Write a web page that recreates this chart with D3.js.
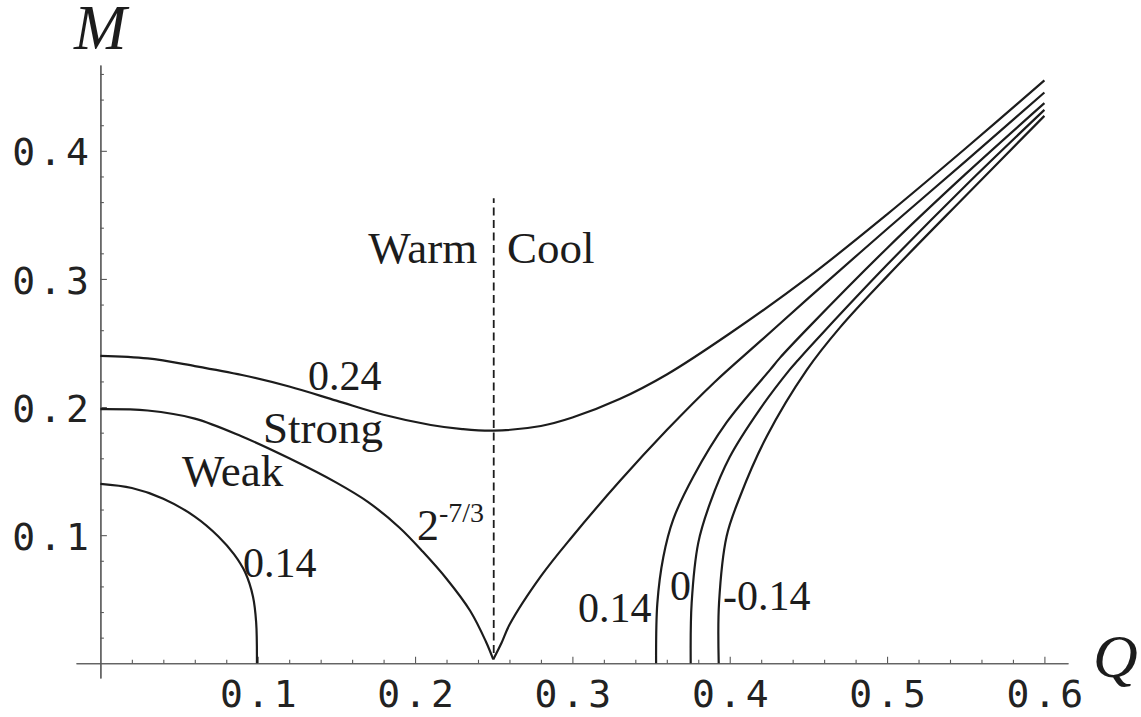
<!DOCTYPE html>
<html>
<head>
<meta charset="utf-8">
<script src="https://cdn.jsdelivr.net/npm/d3@7"></script>
<style>
  html, body { margin: 0; padding: 0; background: #fff; }
  svg { display: block; }
</style>
</head>
<body>
<svg id="chart" width="1141" height="717"></svg>
<script>
// Major tick values on each axis
const qTicks = [0.1, 0.2, 0.3, 0.4, 0.5, 0.6];
const mTicks = [0.1, 0.2, 0.3, 0.4];

// Level curve 0.24 (single smooth branch, minimum at Q = 1/4)
const q024 = [0.000, 0.030, 0.060, 0.090, 0.120, 0.150, 0.180, 0.210, 0.230, 0.250, 0.280, 0.300, 0.330, 0.360, 0.400, 0.450, 0.500, 0.550, 0.600];
const m024 = [0.240, 0.238, 0.232, 0.225, 0.216, 0.205, 0.194, 0.186, 0.1828, 0.1816, 0.1852, 0.1918, 0.2062, 0.2254, 0.2574, 0.3014, 0.3504, 0.4020, 0.4550];

// Critical curve 2^(-7/3): left branch down to the cusp, right branch up from it
const qCritL = [0.000, 0.030, 0.060, 0.090, 0.120, 0.150, 0.170, 0.190, 0.205, 0.220, 0.235, 0.245, 0.2497];
const mCritL = [0.1984, 0.1973, 0.191, 0.177, 0.160, 0.141, 0.126, 0.106, 0.087, 0.066, 0.041, 0.017, 0.003];
const qCritR = [0.2497, 0.255, 0.260, 0.280, 0.300, 0.330, 0.360, 0.390, 0.420, 0.450, 0.500, 0.550, 0.600];
const mCritR = [0.003, 0.016, 0.030, 0.068, 0.099, 0.142, 0.182, 0.219, 0.252, 0.285, 0.339, 0.392, 0.4455];

// Level curve 0.14 on the warm side
const q014L = [0.000, 0.020, 0.040, 0.060, 0.075, 0.085, 0.092, 0.097, 0.099, 0.0995];
const m014L = [0.140, 0.1368, 0.1285, 0.1145, 0.099, 0.085, 0.071, 0.052, 0.032, 0.000];

// Level curves 0.14, 0 and -0.14 on the cool side
const q014R = [0.3532, 0.354, 0.3578, 0.364, 0.377, 0.398, 0.4256, 0.4319, 0.450, 0.500, 0.550, 0.600];
const m014R = [0.000, 0.047, 0.083, 0.112, 0.146, 0.188, 0.229, 0.2384, 0.262, 0.324, 0.382, 0.4372];
const q0R = [0.3752, 0.3758, 0.380, 0.3875, 0.400, 0.419, 0.438, 0.4435, 0.460, 0.500, 0.550, 0.600];
const m0R = [0.000, 0.047, 0.094, 0.125, 0.161, 0.198, 0.229, 0.2368, 0.259, 0.311, 0.373, 0.432];
const qm014R = [0.393, 0.3932, 0.398, 0.4065, 0.4235, 0.449, 0.470, 0.500, 0.550, 0.600];
const mm014R = [0.000, 0.047, 0.099, 0.130, 0.177, 0.229, 0.262, 0.302, 0.365, 0.4273];

// Warm / cool divider at Q = 1/4
const dividerQ = 0.25;
const dividerM = [0.008, 0.363];

const svg = d3.select("#chart");

const x = d3.scaleLinear().domain([-0.0155, 0.615]).range([76, 1068]);
const y = d3.scaleLinear().domain([-0.0115, 0.467]).range([678, 65]);

const axisColor = "#5a5a5a";
const inkColor = "#1c1c1c";
const monoFont = "'DejaVu Sans Mono', 'Liberation Mono', monospace";
const serifFont = "'Liberation Serif', 'Times New Roman', serif";

// Minor tick positions every 0.02
const isMajor = v => Math.abs(v * 10 - Math.round(v * 10)) < 1e-6;
const qMinor = d3.range(1, 31).map(i => +(i * 0.02).toFixed(2)).filter(v => !isMajor(v));
const mMinor = d3.range(1, 24).map(i => +(i * 0.02).toFixed(2)).filter(v => !isMajor(v));

function styleAxis(g) {
  g.select(".domain").attr("stroke", axisColor).attr("stroke-width", 1.2);
  g.selectAll(".tick line").attr("stroke", axisColor).attr("stroke-width", 1.1);
  g.selectAll(".tick text")
    .attr("fill", "#222")
    .style("font-family", monoFont)
    .style("font-size", "38px")
    .style("letter-spacing", "4px");
}

// Q axis
const gx = svg.append("g").attr("transform", `translate(0,${y(0)})`);
gx.append("g")
  .call(d3.axisBottom(x).tickValues(qMinor).tickSize(-3.5).tickSizeOuter(0).tickFormat(""))
  .call(styleAxis);
gx.append("g")
  .call(d3.axisBottom(x).tickValues(qTicks).tickSize(-6.5).tickSizeOuter(0).tickPadding(17)
    .tickFormat(d3.format(".1f")))
  .call(styleAxis)
  .call(g => g.selectAll(".tick text").attr("dx", 2));

// M axis
const gy = svg.append("g").attr("transform", `translate(${x(0)},0)`);
gy.append("g")
  .call(d3.axisLeft(y).tickValues(mMinor).tickSize(-3.5).tickSizeOuter(0).tickFormat(""))
  .call(styleAxis);
gy.append("g")
  .call(d3.axisLeft(y).tickValues(mTicks).tickSize(-6.5).tickSizeOuter(0).tickPadding(7.5)
    .tickFormat(d3.format(".1f")))
  .call(styleAxis)
  .call(g => g.selectAll(".tick text").attr("dy", "0.37em"));

// Axis titles
svg.append("text").attr("x", 74).attr("y", 49)
  .style("font-family", serifFont).style("font-style", "italic").style("font-size", "63px")
  .attr("fill", inkColor).text("M");
svg.append("text").attr("x", 1093).attr("y", 677)
  .style("font-family", serifFont).style("font-style", "italic").style("font-size", "62px")
  .attr("fill", inkColor).text("Q");

// Divider
svg.append("line")
  .attr("x1", x(dividerQ)).attr("x2", x(dividerQ))
  .attr("y1", y(dividerM[0])).attr("y2", y(dividerM[1]))
  .attr("stroke", inkColor).attr("stroke-width", 1.8)
  .attr("stroke-dasharray", "8,4.5");

// Curves
const line = d3.line()
  .x(d => x(d[0]))
  .y(d => y(d[1]))
  .curve(d3.curveCatmullRom.alpha(0.5));

const curves = [
  [q024, m024],
  [qCritL, mCritL],
  [qCritR, mCritR],
  [q014L, m014L],
  [q014R, m014R],
  [q0R, m0R],
  [qm014R, mm014R]
];

svg.append("g")
  .selectAll("path")
  .data(curves.map(([qs, ms]) => qs.map((q, i) => [q, ms[i]])))
  .join("path")
  .attr("d", line)
  .attr("fill", "none")
  .attr("stroke", inkColor)
  .attr("stroke-width", 2.2)
  .attr("stroke-linejoin", "round");

// Annotations
const notes = svg.append("g")
  .style("font-family", serifFont)
  .attr("fill", inkColor);

function note(q, m, txt, size) {
  return notes.append("text")
    .attr("x", x(q)).attr("y", y(m))
    .style("font-size", size + "px")
    .text(txt);
}

note(0.1703, 0.3124, "Warm", 45);
note(0.2584, 0.3124, "Cool", 45);
note(0.1033, 0.1720, "Strong", 45);
note(0.0518, 0.1383, "Weak", 45);
note(0.1319, 0.2134, "0.24", 42);
note(0.0906, 0.0673, "0.14", 42);
note(0.3036, 0.0322, "0.14", 42);
note(0.3621, 0.0494, "0", 42);
note(0.3957, 0.0416, "-0.14", 42);

const crit = note(0.2012, 0.0963, "2", 44);
crit.append("tspan")
  .attr("dy", -18)
  .style("font-size", "28px")
  .text("-7/3");
</script>
</body>
</html>
